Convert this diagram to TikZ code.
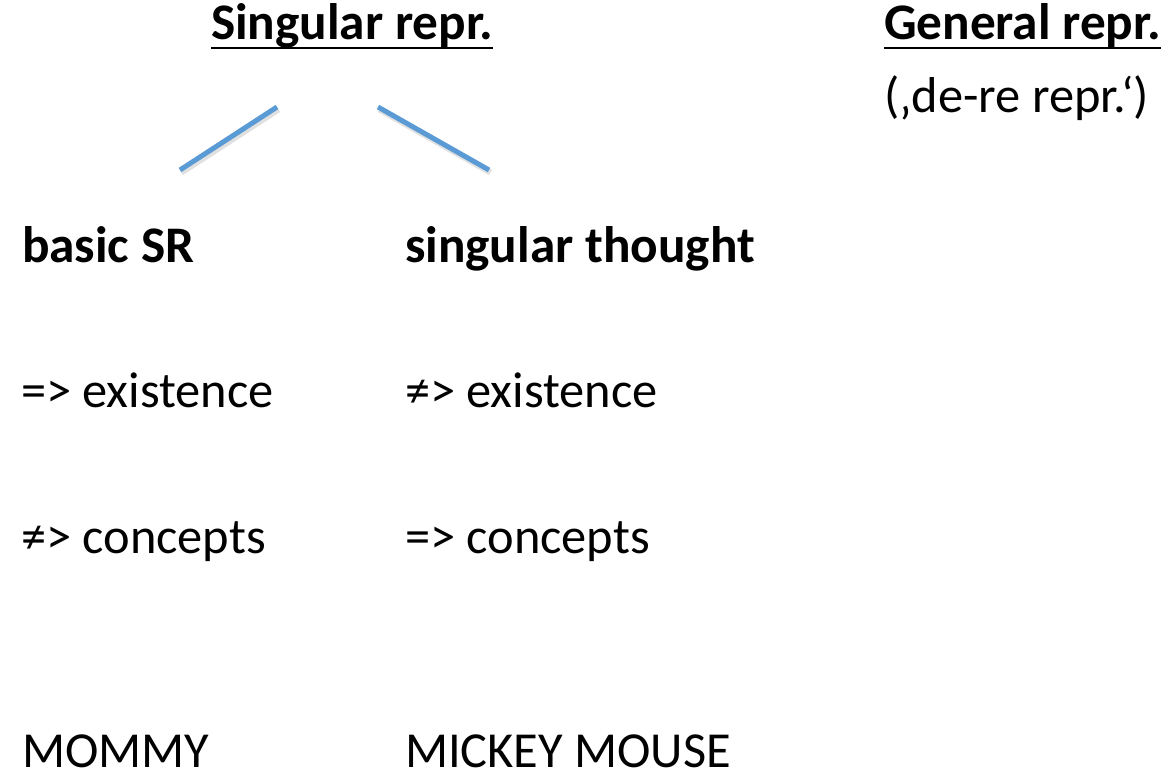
\documentclass[tikz,border=0pt]{standalone}
\usepackage{fontspec}
\setmainfont{Carlito}
\usetikzlibrary{calc}
\definecolor{lineblue}{RGB}{91,155,213}
\tikzset{
  txt/.style={anchor=base west, inner sep=0pt, outer sep=0pt, font=\fontsize{50.4}{60}\selectfont},
  btxt/.style={txt, font=\fontsize{51.3}{60}\selectfont\bfseries},
  branch/.style={draw=lineblue, line width=5pt},
  branchshadow/.style={draw=black, opacity=0.12, line width=6pt},
  uline/.style={draw=black, line width=2.6pt}
}
\begin{document}
\begin{tikzpicture}[x=1pt,y=-1pt]
\useasboundingbox (0,0) rectangle (1169,772);
% headings
\node[btxt] (sing) at (211,39) {Singular repr.};
\node[btxt] (gen) at (884,39) {General repr.};
\node[txt] (dere) at (884,112) {(‚de-re repr.‘)};
\draw[uline] ([yshift=-9pt]sing.base west) -- ([yshift=-9pt]sing.base east);
\draw[uline] ([yshift=-9pt]gen.base west) -- ([yshift=-9pt]gen.base east);
% branches
\coordinate (l1a) at (277,107);
\coordinate (l1b) at (180,170);
\coordinate (l2a) at (378,107);
\coordinate (l2b) at (489,170);
\draw[branchshadow] ($(l1a)+(1.5,2.5)$) -- ($(l1b)+(1.5,2.5)$);
\draw[branchshadow] ($(l2a)+(1.5,2.5)$) -- ($(l2b)+(1.5,2.5)$);
\draw[branch] (l1a) -- (l1b);
\draw[branch] (l2a) -- (l2b);
% columns
\node[btxt] (basic) at (22,262) {basic SR};
\node[btxt] (thought) at (405,262) {singular thought};
\node[txt] (ex1) at (21,407) {=> existence};
\node[txt] (ex2) at (405,407) {≠> existence};
\node[txt] (co1) at (21,553) {≠> concepts};
\node[txt] (co2) at (405,553) {=> concepts};
\node[txt] (mommy) at (22,767) {MOMMY};
\node[txt] (mickey) at (405,767) {MICKEY MOUSE};
\end{tikzpicture}
\end{document}
